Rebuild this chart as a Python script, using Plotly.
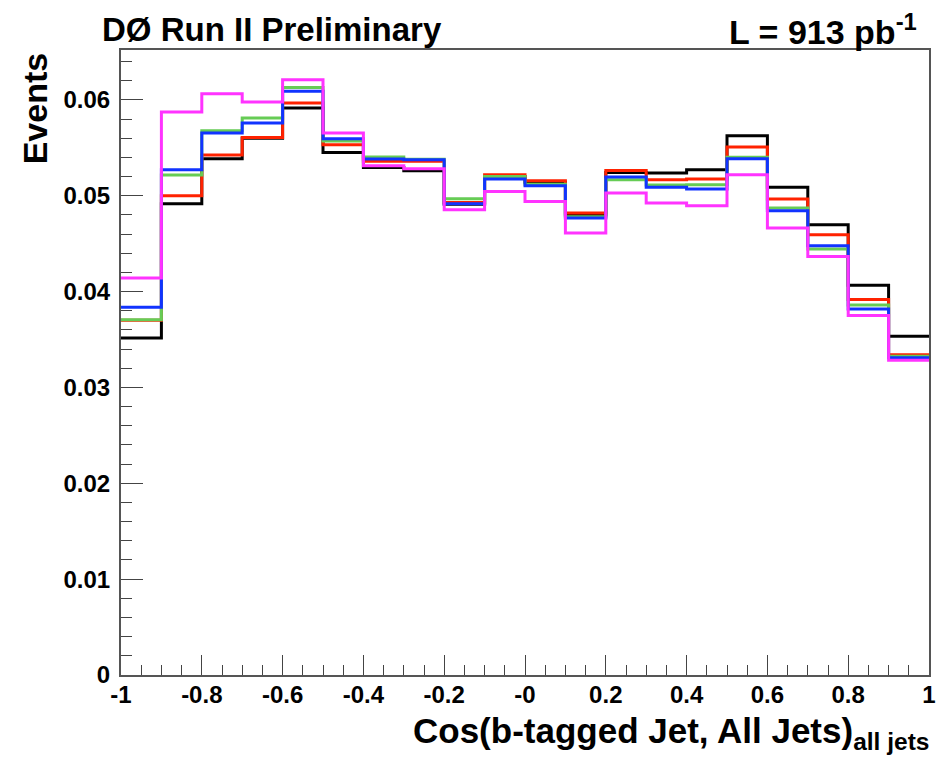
import numpy as np
import plotly.graph_objects as go

bin_edges = [round(-1.0 + 0.1 * i, 1) for i in range(21)]

black = [0.03516, 0.04917, 0.05386, 0.05600, 0.05914, 0.05452, 0.05295, 0.05261, 0.04910, 0.05200,
         0.05140, 0.04800, 0.05243, 0.05237, 0.05271, 0.05626, 0.05087, 0.04698, 0.04065, 0.03533]
red = [0.03700, 0.05000, 0.05424, 0.05608, 0.05967, 0.05532, 0.05360, 0.05360, 0.04930, 0.05219,
       0.05156, 0.04820, 0.05264, 0.05167, 0.05174, 0.05508, 0.04966, 0.04593, 0.03916, 0.03342]
green = [0.03707, 0.05216, 0.05678, 0.05810, 0.06130, 0.05570, 0.05403, 0.05380, 0.04969, 0.05200,
         0.05120, 0.04780, 0.05167, 0.05112, 0.05115, 0.05400, 0.04872, 0.04444, 0.03860, 0.03325]
blue = [0.03836, 0.05271, 0.05654, 0.05758, 0.06090, 0.05594, 0.05382, 0.05375, 0.04917, 0.05174,
        0.05104, 0.04767, 0.05195, 0.05087, 0.05070, 0.05386, 0.04844, 0.04479, 0.03819, 0.03310]
magenta = [0.04142, 0.05873, 0.06064, 0.05977, 0.06210, 0.05654, 0.05313, 0.05282, 0.04854, 0.05045,
           0.04940, 0.04611, 0.05028, 0.04924, 0.04896, 0.05219, 0.04663, 0.04367, 0.03749, 0.03283]

series = [("black", black, "#000000"), ("red", red, "#ff2200"), ("green", green, "#66cc55"),
          ("blue", blue, "#1133ff"), ("magenta", magenta, "#ff33ff")]

x_tickvals = [-1, -0.8, -0.6, -0.4, -0.2, 0, 0.2, 0.4, 0.6, 0.8, 1]
x_ticktext = ["-1", "-0.8", "-0.6", "-0.4", "-0.2", "-0", "0.2", "0.4", "0.6", "0.8", "1"]
y_tickvals = [0, 0.01, 0.02, 0.03, 0.04, 0.05, 0.06]
y_ticktext = ["0", "0.01", "0.02", "0.03", "0.04", "0.05", "0.06"]

FONT = "Liberation Sans, Arial, sans-serif"

fig = go.Figure()
for name, vals, col in series:
    xs = list(bin_edges[:-1]) + [bin_edges[-1]]
    ys = list(vals) + [vals[-1]]
    fig.add_trace(go.Scatter(x=xs, y=ys, mode="lines", line_shape="hv",
                             line=dict(color=col, width=3), name=name, showlegend=False,
                             hoverinfo="skip"))

axis_common = dict(showgrid=False, zeroline=False, showline=True, linecolor="#555555",
                   linewidth=2, mirror=True, ticks="inside", tickcolor="#444444",
                   tickfont=dict(family=FONT, size=24, color="black", weight="bold"))

fig.update_xaxes(range=[-1, 1], tickvals=x_tickvals, ticktext=x_ticktext, ticklen=20, tickwidth=1,
                 minor=dict(ticks="inside", ticklen=10, dtick=0.05, tick0=-1, tickcolor="#444444"),
                 ticklabelstandoff=-3, **axis_common)
fig.update_yaxes(range=[0, 0.0652], tickvals=y_tickvals, ticktext=y_ticktext, ticklen=22, tickwidth=1,
                 minor=dict(ticks="inside", ticklen=11, dtick=0.002, tick0=0, tickcolor="#444444"),
                 ticklabelstandoff=4, **axis_common)

fig.add_annotation(text="DØ Run II Preliminary", xref="paper", yref="paper", x=-0.026, y=1.032,
                   xanchor="left", yanchor="middle", showarrow=False,
                   font=dict(family=FONT, size=33, color="black", weight="bold"))
fig.add_annotation(text="L = 913 pb<sup>-1</sup>", xref="paper", yref="paper", x=0.988, y=1.032,
                   xanchor="right", yanchor="middle", showarrow=False,
                   font=dict(family=FONT, size=34, color="black", weight="bold"))
fig.add_annotation(text="Events", xref="paper", yref="paper", x=-0.106, y=1.0, textangle=-90,
                   xanchor="center", yanchor="top", showarrow=False,
                   font=dict(family=FONT, size=34, color="black", weight="bold"))
fig.add_annotation(text="Cos(b-tagged Jet, All Jets)<sub>all jets</sub>", xref="paper", yref="paper",
                   x=1.002, y=-0.092, xanchor="right", yanchor="middle", showarrow=False,
                   font=dict(family=FONT, size=35, color="black", weight="bold"))

fig.update_layout(width=950, height=761, margin=dict(l=121, r=21, t=50, b=86),
                  paper_bgcolor="white", plot_bgcolor="white")

fig.write_html("out.html")
